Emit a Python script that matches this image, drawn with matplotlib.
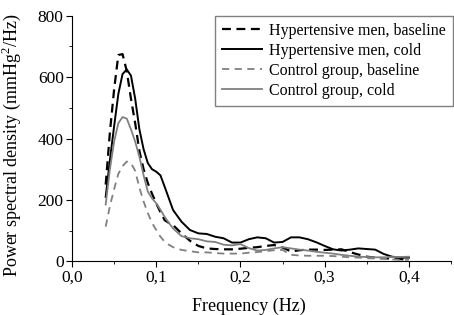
import matplotlib.pyplot as plt
from matplotlib.ticker import MultipleLocator, FuncFormatter

# frequency grid (Hz)
freq = [0.04, 0.045, 0.05, 0.055, 0.06, 0.065, 0.07, 0.075, 0.08, 0.085, 0.09, 0.095,
        0.10, 0.105, 0.11, 0.115, 0.12, 0.13, 0.14, 0.15, 0.16, 0.17, 0.18, 0.19,
        0.20, 0.21, 0.22, 0.23, 0.24, 0.25, 0.26, 0.27, 0.28, 0.29, 0.30, 0.31,
        0.32, 0.33, 0.34, 0.35, 0.36, 0.37, 0.38, 0.39, 0.40]

# power spectral density (mmHg^2/Hz)
hyp_base = [250, 420, 560, 672, 675, 620, 530, 450, 360, 300, 255, 220,
            189, 160, 134, 125, 118, 91, 67, 50, 42, 40, 39, 39,
            41, 44, 46, 50, 53, 45, 32, 36, 38, 38, 37, 38,
            39, 30, 22, 15, 12, 10, 9, 7, 5]
hyp_cold = [210, 330, 440, 545, 610, 625, 605, 530, 430, 365, 320, 300,
            292, 280, 243, 205, 167, 129, 102, 91, 89, 80, 75, 61,
            61, 72, 78, 75, 61, 63, 78, 78, 72, 62, 50, 39,
            35, 38, 42, 40, 38, 24, 15, 12, 12]
ctl_base = [113, 180, 235, 285, 310, 325, 320, 295, 240, 195, 157, 125,
            102, 80, 64, 54, 46, 37, 33, 29, 29, 27, 25, 25,
            25, 28, 30, 33, 36, 37, 21, 19, 18, 18, 18, 17,
            15, 13, 12, 10, 9, 8, 6, 5, 5]
ctl_cold = [185, 300, 390, 450, 470, 465, 430, 390, 341, 280, 227, 205,
            189, 168, 145, 125, 107, 82, 75, 72, 65, 63, 54, 52,
            56, 43, 35, 37, 42, 46, 42, 38, 35, 31, 28, 25,
            21, 18, 15, 14, 13, 13, 14, 14, 15]

plt.rcParams['font.family'] = ['Liberation Serif']
plt.rcParams['mathtext.fontset'] = 'custom'
plt.rcParams['mathtext.rm'] = 'Liberation Serif'

fig = plt.figure(figsize=(4.54, 3.15), dpi=100)
ax = fig.add_axes([0.1586, 0.1705, 0.8348, 0.7795])

ax.plot(freq, hyp_base, color='black', lw=1.6, ls=(0, (4, 2.5)), label='Hypertensive men, baseline')
ax.plot(freq, hyp_cold, color='black', lw=1.4, label='Hypertensive men, cold')
ax.plot(freq, ctl_base, color='#808080', lw=1.3, ls=(0, (4, 3)), label='Control group, baseline')
ax.plot(freq, ctl_cold, color='#808080', lw=1.3, label='Control group, cold')

ax.set_xlim(0, 0.45)
ax.set_ylim(0, 800)
ax.spines['top'].set_visible(False)
ax.spines['right'].set_visible(False)
ax.xaxis.set_major_locator(MultipleLocator(0.1))
ax.xaxis.set_minor_locator(MultipleLocator(0.05))
ax.yaxis.set_major_locator(MultipleLocator(200))
ax.yaxis.set_minor_locator(MultipleLocator(100))
ax.xaxis.set_major_formatter(FuncFormatter(lambda v, p: f'{v:.1f}'.replace('.', ',')))
ax.tick_params(which='major', direction='out', length=4, labelsize=12.5, pad=2)
ax.tick_params(which='minor', direction='out', length=2.5)

ax.set_xlabel('Frequency (Hz)', fontsize=13)
ax.xaxis.set_label_coords(0.467, -0.147)
ax.set_ylabel('Power spectral density (mmHg$^2$/Hz)', fontsize=13)
ax.yaxis.set_label_coords(-0.129, 0.4735)

leg = ax.legend(loc='upper right', bbox_to_anchor=(1.005, 1.0), fontsize=11.5,
                fancybox=False, edgecolor='#808080', framealpha=1,
                handlelength=2.5, handletextpad=0.45, labelspacing=0.25,
                borderpad=0.45, borderaxespad=0.0)
leg.get_frame().set_linewidth(1.0)

fig.savefig('out.png', dpi=100)
